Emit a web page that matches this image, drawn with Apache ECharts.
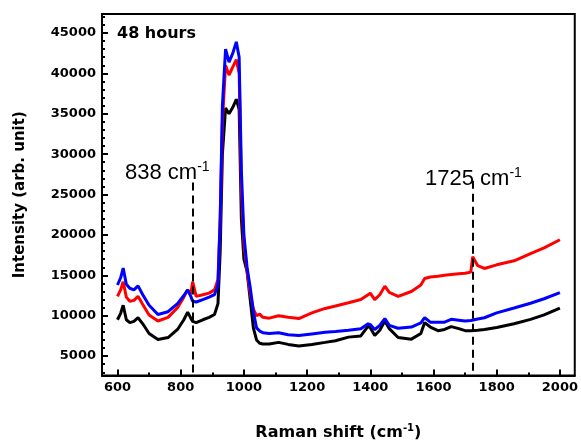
<!DOCTYPE html>
<html>
<head>
<meta charset="utf-8">
<style>
  html, body { margin: 0; padding: 0; background: #fff; }
  #chart { width: 581px; height: 446px; }
</style>
<script src="https://cdn.jsdelivr.net/npm/echarts@6/dist/echarts.min.js"></script>
</head>
<body>
<div id="chart"></div>
<script>
// Raman shift (cm-1), shared by all three spectra
const shift = [600, 610, 618, 628, 639, 652, 665, 680, 700, 728, 760, 790, 810, 822, 832, 838, 849, 870, 890, 907,
  918, 925, 932, 942, 953, 965, 976, 985, 992, 1000, 1010, 1020, 1030, 1040, 1050, 1060, 1080, 1110, 1140, 1174,
  1215, 1257, 1290, 1331, 1370, 1393, 1400, 1414, 1430, 1446, 1460, 1488, 1530, 1560, 1572, 1590, 1614, 1635, 1656, 1680,
  1700, 1718, 1724, 1740, 1761, 1800, 1855, 1907, 1950, 2000]

const blackVals = [9500, 10300, 11300, 9500, 9150, 9300, 9750, 9000, 7800, 7050, 7300, 8300, 9500, 10450, 9700, 9300, 9150, 9500, 9800, 10150,
  11500, 18000, 30000, 35700, 35000, 35800, 36800, 35500, 22000, 17000, 15500, 12000, 8500, 7000, 6600, 6500, 6500, 6700, 6450, 6250,
  6450, 6700, 6900, 7350, 7500, 8700, 8500, 7550, 8200, 9350, 8400, 7300, 7100, 7800, 9150, 8600, 8150, 8300, 8650, 8400,
  8150, 8150, 8150, 8200, 8300, 8550, 9000, 9550, 10100, 10950]

const redVals = [12400, 13200, 14200, 12300, 11800, 11900, 12400, 11400, 10100, 9350, 9800, 11000, 12300, 13200, 12700, 14200, 12400, 12600, 12800, 13200,
  14500, 22000, 34000, 41000, 39800, 40800, 41700, 40000, 26000, 19000, 15500, 12800, 10800, 10000, 10200, 9800, 9700, 10000, 9800, 9650,
  10350, 10900, 11200, 11600, 12000, 12600, 12800, 12000, 12600, 13650, 12900, 12400, 13000, 13800, 14600, 14800, 14900, 15000, 15100, 15200,
  15250, 15400, 17300, 16200, 15850, 16300, 16800, 17700, 18400, 19400]

const blueVals = [13800, 14700, 15900, 13900, 13400, 13200, 13700, 12600, 11300, 10150, 10500, 11500, 12500, 13200, 12400, 11800, 11700, 12000, 12300, 12600,
  13800, 22000, 36000, 43000, 41400, 42500, 43900, 42000, 28000, 20000, 16000, 13500, 10500, 8500, 8100, 7900, 7800, 7900, 7650, 7550,
  7750, 7950, 8050, 8200, 8400, 9000, 8900, 8300, 8800, 9650, 8800, 8450, 8600, 9100, 9750, 9200, 9200, 9200, 9550, 9450,
  9350, 9400, 9450, 9600, 9750, 10350, 10950, 11550, 12100, 12850]

const xMajor = [600, 800, 1000, 1200, 1400, 1600, 1800, 2000]
const xMinor = [700, 900, 1100, 1300, 1500, 1700, 1900]
const yMajor = [5000, 10000, 15000, 20000, 25000, 30000, 35000, 40000, 45000]
const yMinor = [3000, 4000, 6000, 7000, 8000, 9000, 11000, 12000, 13000, 14000, 16000, 17000, 18000, 19000,
  21000, 22000, 23000, 24000, 26000, 27000, 28000, 29000, 31000, 32000, 33000, 34000, 36000, 37000, 38000, 39000,
  41000, 42000, 43000, 44000, 46000, 47000]

// marked bands: position and top of the dashed guide
const bandPos = [838, 1725]
const bandTop = [26500, 26700]

const X_MIN = 551, X_MAX = 2047
const Y_MIN = 2600, Y_MAX = 47350

const tickFont = 'DejaVu Sans'
const chart = echarts.init(document.getElementById('chart'), null, { renderer: 'canvas' })

function pairs(vals) {
  return shift.map((x, i) => [x, vals[i]])
}

function mainAxis(extra) {
  return Object.assign({
    type: 'value',
    axisLine: { show: true, onZero: false, lineStyle: { color: '#000', width: 2 } },
    splitLine: { show: false }
  }, extra)
}

const guideLines = bandPos.map((x, i) => [{ coord: [x, bandTop[i]] }, { coord: [x, Y_MIN] }])

chart.setOption({
  animation: false,
  grid: {
    left: 102, right: 3, top: 14, bottom: 62,
    show: true, borderColor: '#000', borderWidth: 2
  },
  xAxis: [
    mainAxis({
      min: X_MIN, max: X_MAX,
      name: 'Raman shift (cm{sup|-1})',
      nameLocation: 'middle',
      nameGap: 48,
      nameTextStyle: {
        fontFamily: tickFont, fontWeight: 'bold', fontSize: 16, color: '#000',
        rich: { sup: { fontFamily: tickFont, fontWeight: 'bold', fontSize: 10, padding: [0, 0, 9, 0], color: '#000' } }
      },
      axisTick: { inside: true, length: 6, customValues: xMajor, lineStyle: { color: '#000', width: 2 } },
      axisLabel: {
        customValues: xMajor, margin: 6, formatter: v => String(v),
        fontFamily: tickFont, fontWeight: 'bold', fontSize: 13, color: '#000'
      }
    }),
    mainAxis({
      min: X_MIN, max: X_MAX, position: 'bottom',
      axisLine: { show: false },
      axisTick: { inside: true, length: 3, customValues: xMinor, lineStyle: { color: '#000', width: 2 } },
      axisLabel: { show: false }
    })
  ],
  yAxis: [
    mainAxis({
      min: Y_MIN, max: Y_MAX,
      name: 'Intensity (arb. unit)',
      nameLocation: 'middle',
      nameGap: 74,
      nameTextStyle: { fontFamily: tickFont, fontWeight: 'bold', fontSize: 15, color: '#000' },
      axisTick: { inside: true, length: 6, customValues: yMajor, lineStyle: { color: '#000', width: 2 } },
      axisLabel: {
        customValues: yMajor, margin: 6, formatter: v => String(v),
        fontFamily: tickFont, fontWeight: 'bold', fontSize: 13, color: '#000'
      }
    }),
    mainAxis({
      min: Y_MIN, max: Y_MAX, position: 'left',
      axisLine: { show: false },
      axisTick: { inside: true, length: 3, customValues: yMinor, lineStyle: { color: '#000', width: 2 } },
      axisLabel: { show: false }
    })
  ],
  series: [
    {
      name: 'black', type: 'line', symbol: 'none', data: pairs(blackVals),
      lineStyle: { color: '#000', width: 3 }, itemStyle: { color: '#000' },
      markLine: {
        silent: true, symbol: 'none', label: { show: false },
        lineStyle: { color: '#000', width: 2, type: [8, 5] },
        data: guideLines
      }
    },
    {
      name: 'red', type: 'line', symbol: 'none', data: pairs(redVals),
      lineStyle: { color: '#ff0000', width: 3 }, itemStyle: { color: '#ff0000' }
    },
    {
      name: 'blue', type: 'line', symbol: 'none', data: pairs(blueVals),
      lineStyle: { color: '#0000ff', width: 3 }, itemStyle: { color: '#0000ff' }
    }
  ],
  graphic: [
    {
      type: 'text', left: 117, top: 26,
      style: { text: '48 hours', font: 'bold 16px "DejaVu Sans"', fill: '#000' }
    },
    {
      type: 'text', left: 125, top: 160,
      style: {
        text: '{a|838 cm}{s|-1}', fill: '#000',
        rich: {
          a: { fontFamily: 'Liberation Sans', fontSize: 22, color: '#000' },
          s: { fontFamily: 'Liberation Sans', fontSize: 14, color: '#000', padding: [0, 0, 12, 0] }
        }
      }
    },
    {
      type: 'text', left: 425, top: 166,
      style: {
        text: '{a|1725 cm}{s|-1}', fill: '#000',
        rich: {
          a: { fontFamily: 'Liberation Sans', fontSize: 22, color: '#000' },
          s: { fontFamily: 'Liberation Sans', fontSize: 14, color: '#000', padding: [0, 0, 12, 0] }
        }
      }
    }
  ]
})
</script>
</body>
</html>
